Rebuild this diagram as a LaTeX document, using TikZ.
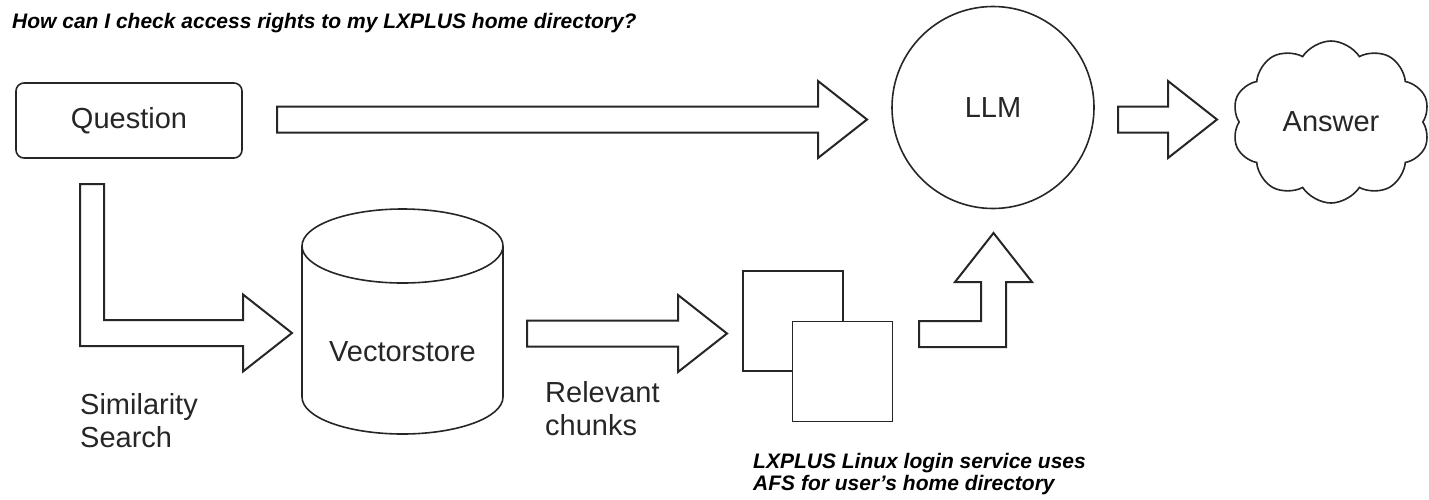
\documentclass[tikz,border=0pt]{standalone}
\usepackage{fontspec}
\setmainfont{Liberation Sans}
\usetikzlibrary{calc, shapes.symbols}

\begin{document}
\begin{tikzpicture}[
    x=1pt, y=-1pt,
    box/.style={draw=black!85, line width=1.6pt, fill=white, inner sep=0pt},
    word/.style={font=\fontsize{29}{33}\selectfont, text=black!85, inner sep=0pt},
    note/.style={font=\fontsize{21}{21.5}\selectfont\bfseries\itshape, inner sep=0pt, align=left},
    fat/.style={draw=black!85, line width=2pt, fill=white, line join=miter},
    % straight block arrow, tail centre -> tip
    fatright/.style={fat, to path={let \p1=(\tikztostart), \p2=(\tikztotarget) in
        (\x1,{\y1+13pt}) -- ({\x2-49pt},{\y1+13pt}) -- ({\x2-49pt},{\y2+38.5pt}) -- (\x2,\y2)
        -- ({\x2-49pt},{\y2-38.5pt}) -- ({\x2-49pt},{\y1-13pt}) -- (\x1,{\y1-13pt}) -- cycle}},
    % down, then right
    fatdown/.style={fat, to path={let \p1=(\tikztostart), \p2=(\tikztotarget) in
        ({\x1-12pt},\y1) -- ({\x1-12pt},{\y2-13pt}) -- ({\x2-49pt},{\y2-13pt}) -- ({\x2-49pt},{\y2-38.5pt})
        -- (\x2,\y2) -- ({\x2-49pt},{\y2+38.5pt}) -- ({\x2-49pt},{\y2+13pt}) -- ({\x1+12pt},{\y2+13pt})
        -- ({\x1+12pt},\y1) -- cycle}},
    % right, then up
    fatup/.style={fat, to path={let \p1=(\tikztostart), \p2=(\tikztotarget) in
        (\x1,{\y1+13pt}) -- ({\x2-12.5pt},{\y1+13pt}) -- ({\x2-12.5pt},{\y2-49pt}) -- ({\x2-38.5pt},{\y2-49pt})
        -- (\x2,\y2) -- ({\x2+38.5pt},{\y2-49pt}) -- ({\x2+12.5pt},{\y2-49pt}) -- ({\x2+12.5pt},{\y1-13pt})
        -- (\x1,{\y1-13pt}) -- cycle}}
]
\useasboundingbox (0,0) rectangle (1429,499);

% Nodes
\node[box, word, rounded corners=8pt, minimum width=226, minimum height=75] (question) at (129,120.5) {Question};
\node[box, word, circle, minimum size=202] (llm) at (993,107.5) {LLM};
\node[box, word, cloud, cloud puffs=10, cloud puff arc=115, cloud ignores aspect,
      minimum width=198, minimum height=162] (answer) at (1331,122) {Answer};
\node[word] (store) at (402.5,352) {Vectorstore};
\node[box, minimum size=100] (chunkA) at (793,321) {};
\node[box, minimum size=100] (chunkB) at (842.5,371.5) {};

% Vectorstore cylinder
\draw[box, fill=none] ($(store)+(-100.5,-106)$) -- ++(0,151)
    arc[start angle=180, end angle=0, x radius=100.5, y radius=37] -- ++(0,-151);
\draw[box, fill=none] ($(store)+(0,-106)$) ellipse[x radius=100.5, y radius=37];

% Arrow ends
\coordinate (askFrom)    at (277,119.5);
\coordinate (askTo)      at (867,119.5);
\coordinate (ansFrom)    at (1118,119.5);
\coordinate (ansTo)      at (1217,119.5);
\coordinate (searchFrom) at (92,184);
\coordinate (searchTo)   at (292,333);
\coordinate (chunkFrom)  at (527,333.5);
\coordinate (chunkTo)    at (727,333.5);
\coordinate (ctxFrom)    at (919,334);
\coordinate (ctxTo)      at (993.5,233);

% Arrows
\draw[fatright] (askFrom) to (askTo);
\draw[fatright] (ansFrom) to (ansTo);
\draw[fatdown] (searchFrom) to (searchTo);
\draw[fatright] (chunkFrom) to (chunkTo);
\draw[fatup] (ctxFrom) to (ctxTo);

% Labels (base = last line)
\node[note, anchor=base west] (query) at (12,28) {How can I check access rights to my LXPLUS home directory?};
\node[word, anchor=base west, align=left] (simLabel) at (80,447) {Similarity\\Search};
\node[word, anchor=base west, align=left] (relLabel) at (545,435) {Relevant\\chunks};
\node[note, anchor=base west] (source) at (753,490) {LXPLUS Linux login service uses\\AFS for user’s home directory};

\end{tikzpicture}
\end{document}
